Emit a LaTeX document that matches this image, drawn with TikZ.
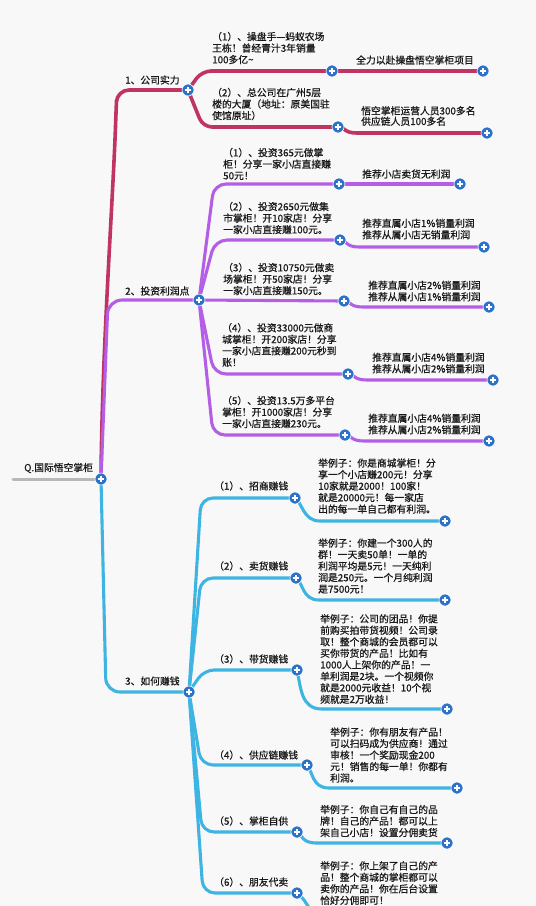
\documentclass[tikz,border=0pt]{standalone}
\usepackage{fontspec}
\setmainfont{Noto Sans CJK SC}[FakeBold=0.7]
\usetikzlibrary{calc}
\definecolor{crim}{RGB}{192,52,98}
\definecolor{purp}{RGB}{180,94,230}
\definecolor{blu}{RGB}{62,180,226}
\definecolor{pblue}{RGB}{44,114,200}
\definecolor{rootgray}{RGB}{184,184,184}
\definecolor{bgc}{RGB}{248,248,248}
\definecolor{ink}{RGB}{25,25,25}
\pgfdeclarelayer{bgfill}
\pgfdeclarelayer{lines}
\pgfsetlayers{bgfill,lines,main}
\begin{document}
\begin{tikzpicture}[x=1pt,y=-1pt,
  plus/.style={circle,fill=pblue,draw=white,line width=0.6pt,minimum size=12pt,inner sep=0pt,
    path picture={\draw[white,line width=1.6pt]
      ([xshift=-3.2pt]path picture bounding box.center) -- ([xshift=3.2pt]path picture bounding box.center)
      ([yshift=-3.2pt]path picture bounding box.center) -- ([yshift=3.2pt]path picture bounding box.center);}},
  txt/.style={inner sep=0pt,anchor=west,align=left,font=\fontsize{9.8}{11.5}\selectfont,text=ink},
  crimline/.style={draw=crim,line width=3.6pt,line cap=round,rounded corners=12pt},
  purpline/.style={draw=purp,line width=3.1pt,line cap=round,rounded corners=12pt},
  bluline/.style={draw=blu,line width=3.1pt,line cap=round,rounded corners=12pt},
  rootline/.style={draw=rootgray,line width=3pt,line cap=round}]
\useasboundingbox (0,0) rectangle (536,906);
\begin{pgfonlayer}{bgfill}
\fill[bgc] (0,0) rectangle (536,906);
\end{pgfonlayer}

% ---------- plus nodes ----------
\node[plus] (r) at (101,479) {};
\node[plus] (c1) at (188,90) {};
\node[plus] (c11) at (332,71) {};
\node[plus] (c111) at (483,71) {};
\node[plus] (c12) at (338,127) {};
\node[plus] (c121) at (487,133) {};

\node[plus] (p2) at (199,300) {};
\node[plus] (p21) at (339,184) {};
\node[plus] (p211) at (460,184) {};
\node[plus] (p22) at (340,240) {};
\node[plus] (p221) at (484,247) {};
\node[plus] (p23) at (344,301) {};
\node[plus] (p231) at (489,307) {};
\node[plus] (p24) at (348,374) {};
\node[plus] (p241) at (493,380) {};
\node[plus] (p25) at (345,435) {};
\node[plus] (p251) at (489,441) {};

\node[plus] (p3) at (189,692) {};
\node[plus] (p31) at (295,498) {};
\node[plus] (p311) at (445,521) {};
\node[plus] (p32) at (296,578) {};
\node[plus] (p321) at (445,600) {};
\node[plus] (p33) at (297,670) {};
\node[plus] (p331) at (447,709) {};
\node[plus] (p34) at (307,765) {};
\node[plus] (p341) at (457,788) {};
\node[plus] (p35) at (297,832) {};
\node[plus] (p351) at (447,843) {};
\node[plus] (p36) at (297,893) {};
\coordinate (e36) at (313,914);
\coordinate (rootend) at (13,479);

% ---------- connectors ----------
\begin{pgfonlayer}{lines}
\draw[rootline] (rootend) -- (r.center);
% crimson
\draw[crimline] (r.center) .. controls (102,350) and (113,200) .. (116,112) -- (117,90) -- (c1.center);
\draw[crimline,rounded corners=9pt] (c1.center) -- (202,71) -- (c11.center);
\draw[crimline] (c11.center) -- (c111.center);
\draw[crimline,rounded corners=9pt] (c1.center) -- (203,127) -- (c12.center);
\draw[crimline,rounded corners=0pt] (c12.center) .. controls (346,127) and (343,133) .. (357,133) -- (c121.center);
% purple
\draw[purpline,rounded corners=14pt] (r.center) -- (108,300) -- (p2.center);
\draw[purpline] (p2.center) -- (214,184) -- (p21.center);
\draw[purpline] (p21.center) -- (p211.center);
\draw[purpline] (p2.center) -- (215,240) -- (p22.center);
\draw[purpline,rounded corners=0pt] (p22.center) .. controls (347,240) and (345,247) .. (359,247) -- (p221.center);
\draw[purpline] (p2.center) -- (p23.center);
\draw[purpline,rounded corners=0pt] (p23.center) .. controls (351,301) and (349,307) .. (363,307) -- (p231.center);
\draw[purpline] (p2.center) -- (214,374) -- (p24.center);
\draw[purpline,rounded corners=0pt] (p24.center) .. controls (355,374) and (353,380) .. (367,380) -- (p241.center);
\draw[purpline] (p2.center) -- (213,435) -- (p25.center);
\draw[purpline,rounded corners=0pt] (p25.center) .. controls (352,435) and (350,441) .. (364,441) -- (p251.center);
% blue
\draw[bluline,rounded corners=14pt] (r.center) -- (106,692) -- (p3.center);
\draw[bluline] (p3.center) -- (201,498) -- (p31.center);
\draw[bluline,rounded corners=0pt] (p31.center) .. controls (302,502) and (303,521) .. (320,521) -- (p311.center);
\draw[bluline] (p3.center) -- (201,578) -- (p32.center);
\draw[bluline,rounded corners=0pt] (p32.center) .. controls (303,582) and (302,600) .. (319,600) -- (p321.center);
\draw[bluline,rounded corners=10pt] (p3.center) -- (204,670) -- (p33.center);
\draw[bluline,rounded corners=0pt] (p33.center) .. controls (301,688) and (301,709) .. (322,709) -- (p331.center);
\draw[bluline] (p3.center) -- (201,765) -- (p34.center);
\draw[bluline,rounded corners=0pt] (p34.center) .. controls (313,772) and (312,788) .. (329,788) -- (p341.center);
\draw[bluline] (p3.center) -- (202,832) -- (p35.center);
\draw[bluline,rounded corners=0pt] (p35.center) .. controls (303,836) and (302,843) .. (317,843) -- (p351.center);
\draw[bluline] (p3.center) -- (203,893) -- (p36.center);
\draw[bluline,rounded corners=0pt] (p36.center) .. controls (303,898) .. (e36);
\end{pgfonlayer}

% ---------- texts ----------
\node[txt] (troot) at (24,468) {Q.国际悟空掌柜};

\node[txt] (t1) at (125,80) {1、公司实力};
\node[txt] (t11) at (212,48) {（1）、操盘手—蚂蚁农场\\王栋！曾经青汁3年销量\\100多亿\textasciitilde};
\node[txt] (t111) at (356,60) {全力以赴操盘悟空掌柜项目};
\node[txt] (t12) at (212,104) {（2）、总公司在广州5层\\楼的大厦（地址：原美国驻\\使馆原址）};
\node[txt,font=\fontsize{9.8}{10.5}\selectfont] (t121) at (361,116) {悟空掌柜运营人员300多名\\供应链人员100多名};

\node[txt] (t2) at (125,291) {2、投资利润点};
\node[txt] (t21) at (223,164) {（1）、投资365元做掌\\柜！分享一家小店直接赚\\50元！};
\node[txt] (t211) at (362,174) {推荐小店卖货无利润};
\node[txt] (t22) at (223,218) {（2）、投资2650元做集\\市掌柜！开10家店！分享\\一家小店直接赚100元。};
\node[txt] (t221) at (362,229) {推荐直属小店1\%销量利润\\推荐从属小店无销量利润};
\node[txt] (t23) at (223,279) {（3）、投资10750元做卖\\场掌柜！开50家店！分享\\一家小店直接赚150元。};
\node[txt] (t231) at (368,291) {推荐直属小店2\%销量利润\\推荐从属小店1\%销量利润};
\node[txt] (t24) at (222,345) {（4）、投资33000元做商\\城掌柜！开200家店！分享\\一家小店直接赚200元秒到\\账！};
\node[txt] (t241) at (372,363) {推荐直属小店4\%销量利润\\推荐从属小店2\%销量利润};
\node[txt] (t25) at (222,412) {（5）、投资13.5万多平台\\掌柜！开1000家店！分享\\一家小店直接赚230元。};
\node[txt] (t251) at (368,424) {推荐直属小店4\%销量利润\\推荐从属小店2\%销量利润};

\node[txt] (t3) at (125,681) {3、如何赚钱};
\node[txt] (t31) at (214,486) {（1）、招商赚钱};
\node[txt] (t311) at (318,486) {举例子：你是商城掌柜！分\\享一个小店赚200元！分享\\10家就是2000！100家！\\就是20000元！每一家店\\出的每一单自己都有利润。};
\node[txt] (t32) at (214,566) {（2）、卖货赚钱};
\node[txt] (t321) at (318,566) {举例子：你建一个300人的\\群！一天卖50单！一单的\\利润平均是5元！一天纯利\\润是250元。一个月纯利润\\是7500元！};
\node[txt] (t33) at (214,659) {（3）、带货赚钱};
\node[txt] (t331) at (320,659) {举例子：公司的团品！你提\\前购买拍带货视频！公司录\\取！整个商城的会员都可以\\买你带货的产品！比如有\\1000人上架你的产品！一\\单利润是2块。一个视频你\\就是2000元收益！10个视\\频就是2万收益！};
\node[txt] (t34) at (214,755) {（4）、供应链赚钱};
\node[txt] (t341) at (330,755) {举例子：你有朋友有产品！\\可以扫码成为供应商！通过\\审核！一个奖励现金200\\元！销售的每一单！你都有\\利润。};
\node[txt] (t35) at (214,821) {（5）、掌柜自供};
\node[txt] (t351) at (320,821) {举例子：你自己有自己的品\\牌！自己的产品！都可以上\\架自己小店！设置分佣卖货};
\node[txt] (t36) at (214,882) {（6）、朋友代卖};
\node[txt] (t361) at (320,883) {举例子：你上架了自己的产\\品！整个商城的掌柜都可以\\卖你的产品！你在后台设置\\恰好分佣即可！};
\end{tikzpicture}
\end{document}
